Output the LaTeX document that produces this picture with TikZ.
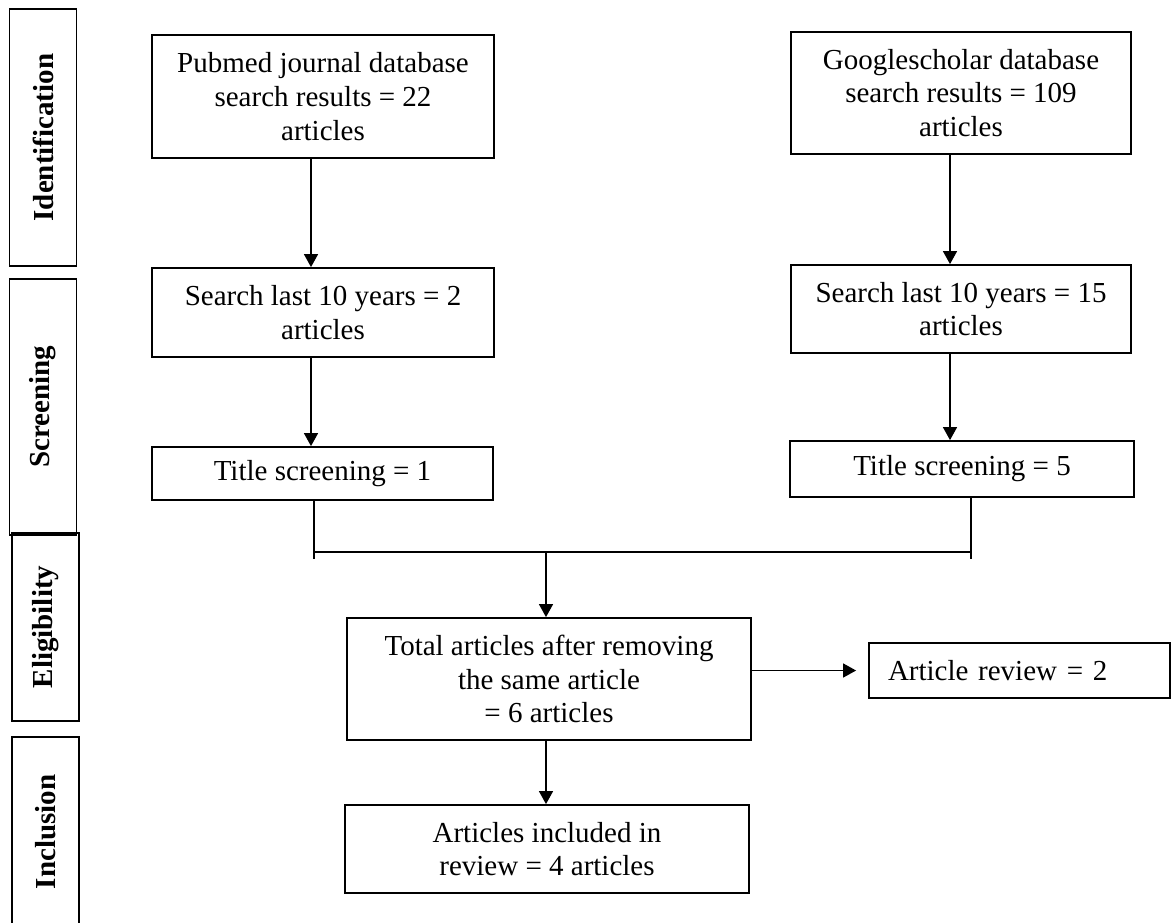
\documentclass[tikz,border=0pt]{standalone}
\usepackage{fontspec}
\setmainfont{Liberation Serif}
\usetikzlibrary{arrows.meta,positioning,calc}

\begin{document}
\begin{tikzpicture}[
    x=0.5pt, y=-0.5pt,
    font=\fontsize{14.5}{16.8}\selectfont,
    >={Triangle[length=6.5pt, width=7pt]},
    stage/.style={draw, line width=0.9pt, rotate=90, font=\fontsize{14.5}{16.8}\selectfont\bfseries, minimum height=33.5pt, inner sep=0pt},
    box/.style={draw, line width=0.9pt, align=center, inner sep=0pt},
    link/.style={line width=0.7pt},
]
    \useasboundingbox (0,0) rectangle (1171,922);
    \clip (0,0) rectangle (1171,922);

    % =====================================================================
    % STAGE LABELS
    % =====================================================================
    \node[stage, minimum width=128.5pt] (ident) at (43,137.5) {Identification};
    \node[stage, minimum width=128pt] (screen) at (43,407) {Screening};
    \node[stage, minimum width=94pt] (elig) at (45.5,627) {Eligibility};
    \node[stage, minimum width=95pt] (incl) at (45.5,832) {Inclusion};

    % =====================================================================
    % BOXES
    % =====================================================================
    \node[box, minimum width=171pt, minimum height=61.5pt] (pubmed) at (323,96.5)
        {Pubmed journal database\\ search results = 22\\ articles};
    \node[box, minimum width=170pt, minimum height=61pt] (google) at (961,93)
        {Googlescholar database\\ search results = 109\\ articles};

    \node[box, minimum width=171pt, minimum height=44.5pt] (searchL) at (323,312.5)
        {Search last 10 years = 2\\ articles};
    \node[box, minimum width=170pt, minimum height=44pt] (searchR) at (961,309)
        {Search last 10 years = 15\\ articles};

    \node[box, minimum width=170.5pt, minimum height=26.5pt] (titleL) at (322.5,473.5) {Title screening = 1};
    \node[box, minimum width=172pt, minimum height=28pt] (titleR) at (962,469) {Title screening = 5};

    \node[box, minimum width=202pt, minimum height=61pt] (total) at (549,679)
        {Total articles after removing\\ the same article\\ = 6 articles};
    \node[box, minimum width=202pt, minimum height=44pt] (included) at (547,849)
        {Articles included in\\ review = 4 articles};
    \node[box, align=left, text width=131.5pt, inner xsep=9.5pt, minimum height=27.5pt] (review) at (1019.5,670.5)
        {Article review = 2};

    % =====================================================================
    % CONNECTORS
    % =====================================================================
    \coordinate (colL) at (311,0);
    \coordinate (colR) at (950,0);
    \coordinate (colM) at (546,0);
    \coordinate (joinL) at (314,559);
    \coordinate (joinR) at (971,559);
    \coordinate (bar) at (0,552);

    \draw[link,->] (pubmed.south -| colL) -- (searchL.north -| colL);
    \draw[link,->] (searchL.south -| colL) -- (titleL.north -| colL);
    \draw[link,->] (google.south -| colR) -- (searchR.north -| colR);
    \draw[link,->] (searchR.south -| colR) -- (titleR.north -| colR);

    \draw[link] (titleL.south -| joinL) -- (joinL);
    \draw[link] (titleR.south -| joinR) -- (joinR);
    \draw[link] (bar -| joinL) -- (bar -| joinR);
    \draw[link,->] (bar -| colM) -- (total.north -| colM);

    \draw[link,->] (total.south -| colM) -- (included.north -| colM);
    \draw[link,->] (total.east |- review) -- ([xshift=-6pt]review.west);

\end{tikzpicture}
\end{document}
